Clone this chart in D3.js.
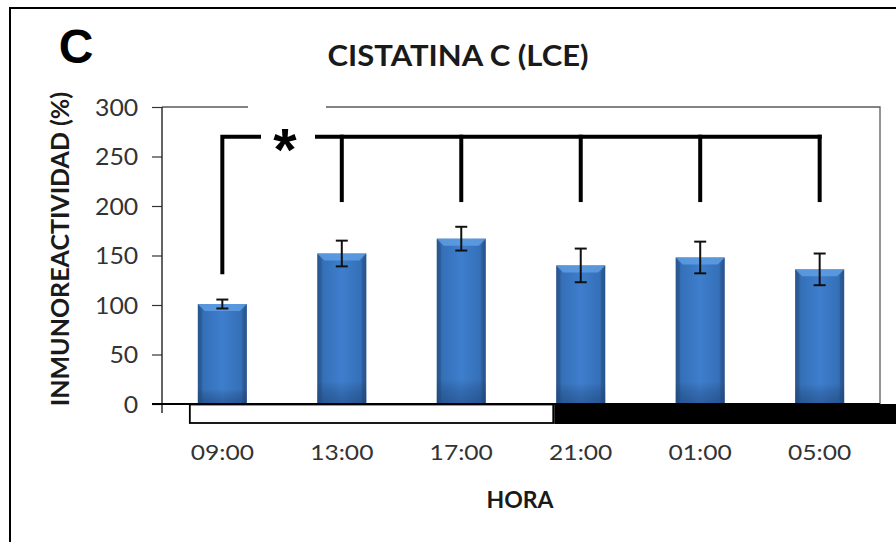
<!DOCTYPE html>
<html><head><meta charset="utf-8">
<script src="https://cdn.jsdelivr.net/npm/d3@7"></script>
<style>body{margin:0;background:#fff}svg{display:block}</style>
</head><body>
<script>
const hours = ["09:00","13:00","17:00","21:00","01:00","05:00"];
const values = [101,152,167,140,148,136];
const errors = [4.5,13,12,17,16,16];
const yTicks = [0,50,100,150,200,250,300];
const bracketTop = 270, bracketDrop = 206, bracketFirstDrop = 133;

const W=896,H=542;
const svg=d3.select("body").append("svg").attr("width",W).attr("height",H);
const L=162,R=880,T=107,B=404;
const x=d3.scaleBand().domain(hours).range([L,R]).paddingInner(0.59).paddingOuter(0.3);
const y=d3.scaleLinear().domain([0,300]).range([B,T]);
const font="Lato, 'Open Sans', sans-serif";

// outer frame
svg.append("path").attr("d",`M10,${H} L10,8 L${W},8`).attr("fill","none").attr("stroke","#000").attr("stroke-width",2);

// gradient
const defs=svg.append("defs");
const g=defs.append("linearGradient").attr("id","bg").attr("x1","0").attr("x2","1").attr("y1","0").attr("y2","0");
[[0,"#2a5893"],[0.12,"#3570b8"],[0.5,"#3e7ecd"],[0.88,"#3570b8"],[1,"#2a5690"]].forEach(([o,c])=>g.append("stop").attr("offset",o).attr("stop-color",c));
const gv=defs.append("linearGradient").attr("id","bv").attr("x1","0").attr("x2","0").attr("y1","0").attr("y2","1");
[[0,"#000",0],[0.85,"#000",0],[1,"#0a2a5a",0.35]].forEach(([o,c,a])=>gv.append("stop").attr("offset",o).attr("stop-color",c).attr("stop-opacity",a));

// plot frame (top with gap, right)
const frame=svg.append("g").attr("stroke","#5a5a5a").attr("stroke-width",1.3).attr("fill","none");
frame.append("path").attr("d",`M${L},${T} L248,${T} M326,${T} L${R},${T} L${R},${B}`);

// bars
const bars=svg.append("g");
hours.forEach((h,i)=>{
  const bx=x(h), bw=x.bandwidth(), by=y(values[i]), bh=y(0)-y(values[i]);
  bars.append("rect").attr("x",bx).attr("y",by).attr("width",bw).attr("height",bh).attr("fill","url(#bg)");
  bars.append("rect").attr("x",bx).attr("y",by).attr("width",bw).attr("height",bh).attr("fill","url(#bv)");
  const bev=7;
  bars.append("path").attr("d",`M${bx},${by} L${bx+bw},${by} L${bx+bw-bev},${by+bev} L${bx+bev},${by+bev} Z`).attr("fill","#5f9de3").attr("opacity",0.85);
  bars.append("path").attr("d",`M${bx},${by} L${bx+bev*0.6},${by+bev} L${bx+bev*0.6},${by+bh} L${bx},${by+bh} Z`).attr("fill","#244d82").attr("opacity",0.35);
  bars.append("path").attr("d",`M${bx+bw},${by} L${bx+bw-bev*0.6},${by+bev} L${bx+bw-bev*0.6},${by+bh} L${bx+bw},${by+bh} Z`).attr("fill","#244d82").attr("opacity",0.35);
});

// error bars
const eb=svg.append("g").attr("stroke","#111").attr("stroke-width",2);
hours.forEach((h,i)=>{
  const cx=x(h)+x.bandwidth()/2, hi=y(values[i]+errors[i]), lo=y(values[i]-errors[i]);
  eb.append("line").attr("x1",cx).attr("x2",cx).attr("y1",hi).attr("y2",lo);
  eb.append("line").attr("x1",cx-6).attr("x2",cx+6).attr("y1",hi).attr("y2",hi);
  eb.append("line").attr("x1",cx-6).attr("x2",cx+6).attr("y1",lo).attr("y2",lo);
});

// day/night bar
const dayStart=x(hours[0])-8, nightStart=x(hours[3])-2;
svg.append("rect").attr("x",nightStart).attr("y",B).attr("width",W-nightStart).attr("height",20).attr("fill","#000");
svg.append("rect").attr("x",dayStart).attr("y",B+0.5).attr("width",nightStart-dayStart-1).attr("height",18.5).attr("fill","#fff").attr("stroke","#000").attr("stroke-width",1.8);

// axes
const ya=svg.append("g").attr("transform",`translate(${L},0)`).call(d3.axisLeft(y).tickValues(yTicks).tickSize(10).tickPadding(13));
ya.select(".domain").remove();
ya.selectAll(".tick line").attr("stroke","#333").attr("stroke-width",1.2);
ya.selectAll(".tick text").attr("font-family",font).attr("font-size",23).attr("fill","#333").attr("dy","0.35em");
ya.selectAll(".tick").each(function(){
  const t=d3.select(this).select("text");
  t.attr("transform","translate(-13,0) scale(1.08,1) translate(13,0)");
});
svg.append("line").attr("x1",L).attr("x2",L).attr("y1",T).attr("y2",B+9).attr("stroke","#222").attr("stroke-width",1.4);
svg.append("line").attr("x1",L-10).attr("x2",R).attr("y1",B).attr("y2",B).attr("stroke","#000").attr("stroke-width",2);

const xa=svg.append("g").attr("transform",`translate(0,${B})`).call(d3.axisBottom(x).tickSize(0).tickPadding(40));
xa.select(".domain").remove();
xa.selectAll(".tick text").attr("font-family",font).attr("font-size",22).attr("fill","#333").attr("transform","scale(1.12,1)");

// bracket
const br=svg.append("g").attr("stroke","#000").attr("stroke-width",4).attr("fill","none").attr("stroke-linecap","square");
const cxs=hours.map(h=>x(h)+x.bandwidth()/2);
br.append("path").attr("d",`M${cxs[0]},${y(bracketFirstDrop)} L${cxs[0]},${y(bracketTop)} L259,${y(bracketTop)}`);
br.append("path").attr("d",`M317,${y(bracketTop)} L${cxs[5]},${y(bracketTop)}`);
cxs.slice(1).forEach(cx=>br.append("line").attr("x1",cx).attr("x2",cx).attr("y1",y(bracketTop)).attr("y2",y(bracketDrop)));
svg.append("text").attr("x",285).attr("y",y(bracketTop)+33).attr("text-anchor","middle").attr("font-family","Liberation Sans, Arial, sans-serif").attr("font-weight","bold").attr("font-size",60).text("*");

// titles
svg.append("text").attr("x",76).attr("y",63).attr("text-anchor","middle").attr("font-family","Liberation Sans, Arial, sans-serif").attr("font-weight","bold").attr("font-size",48).text("C");
svg.append("text").attr("transform","translate(458,66) scale(1.07,1)").attr("text-anchor","middle").attr("font-family",font).attr("font-weight","bold").attr("font-size",29).attr("fill","#1a1a1a").text("CISTATINA C (LCE)");
svg.append("text").attr("transform","translate(69,249) rotate(-90)").attr("text-anchor","middle").attr("font-family",font).attr("font-weight","bold").attr("font-size",25).attr("fill","#1a1a1a").text("INMUNOREACTIVIDAD (%)");
svg.append("text").attr("x",520).attr("y",508).attr("text-anchor","middle").attr("font-family",font).attr("font-weight","bold").attr("font-size",23).attr("fill","#1a1a1a").text("HORA");
</script>
</body></html>
